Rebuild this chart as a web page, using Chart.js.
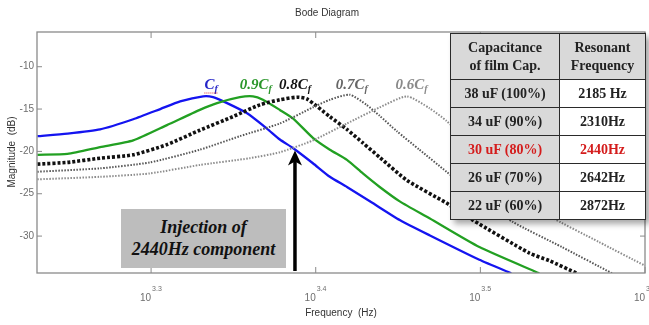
<!DOCTYPE html>
<html>
<head>
<meta charset="utf-8">
<script src="https://cdn.jsdelivr.net/npm/chart.js@4.4.1/dist/chart.umd.min.js"></script>
<style>
  body { margin: 0; background: #fff; }
  #wrap { position: relative; width: 649px; height: 325px; overflow: hidden; }
  #tbl { position: absolute; left: 450px; top: 33px; width: 196px; border-collapse: collapse;
         font: bold 14px "Liberation Serif", "Times New Roman", serif; color: #222;
         box-shadow: 4px 4px 6px rgba(0,0,0,0.35); background: #fff; }
  #tbl th, #tbl td { border: 1.5px solid #2a2a2a; text-align: center; padding: 0; }
  #tbl th { background: #d9d9d9; height: 45px; line-height: 18px; font-weight: bold; }
  #tbl td { height: 27px; }
  #tbl td.c { background: #d9d9d9; width: 108px; }
  #tbl tr.hi td { color: #d41c1c; }
  #inj { position: absolute; left: 121px; top: 209px; width: 165px; height: 59px; background: #bdbdbd;
         font: bold italic 18px "Liberation Serif", "Times New Roman", serif; color: #111;
         text-align: center; line-height: 22px; padding-top: 7px; box-sizing: border-box; }
</style>
</head>
<body>
<div id="wrap">
  <canvas id="bode" width="649" height="325"></canvas>
  <table id="tbl"></table>
  <div id="inj">Injection of<br>2440Hz component</div>
</div>
<script>
// frequency in Hz, magnitude in dB
const freqCf = [1702, 1775, 1858, 1946, 2021, 2078, 2146, 2176, 2219, 2282, 2346, 2389, 2433, 2502, 2562, 2624, 2720, 2825, 2945, 3158, 3302];
const magCf  = [-18.2, -17.9, -17.4, -16.2, -15.0, -14.1, -13.5, -13.6, -14.3, -15.5, -17.3, -18.6, -19.6, -21.4, -23.0, -24.2, -26.1, -28.1, -29.9, -32.8, -34.4];

const freq09 = [1702, 1775, 1858, 1946, 2040, 2136, 2188, 2259, 2301, 2333, 2389, 2433, 2502, 2562, 2624, 2683, 2747, 2825, 2945, 3158, 3434];
const mag09  = [-20.4, -20.3, -19.5, -18.7, -16.9, -15.1, -14.3, -13.6, -13.5, -13.9, -15.1, -16.1, -18.4, -19.8, -21.0, -22.6, -24.2, -25.9, -27.9, -31.3, -34.4];

const freq08 = [1702, 1775, 1858, 1946, 2040, 2136, 2237, 2323, 2389, 2447, 2481, 2562, 2624, 2683, 2747, 2853, 3016, 3128, 3386, 3482, 3620];
const mag08  = [-21.5, -21.3, -20.8, -20.4, -19.2, -17.5, -15.9, -14.5, -13.9, -13.6, -13.8, -15.9, -17.4, -19.0, -20.7, -23.4, -26.1, -28.1, -32.0, -32.9, -34.4];

const freq07 = [1702, 1858, 1992, 2136, 2259, 2389, 2502, 2562, 2634, 2697, 2747, 2813, 2904, 3016, 3158, 3307, 3545, 3802];
const mag07  = [-22.4, -22.0, -21.3, -19.8, -18.2, -16.7, -14.8, -13.9, -13.3, -14.5, -15.8, -17.6, -19.8, -22.4, -25.5, -28.3, -31.3, -34.4];

const freq06 = [1702, 1858, 1992, 2136, 2291, 2389, 2502, 2624, 2747, 2853, 2945, 3016, 3158, 3316, 3482, 3733, 3981];
const mag06  = [-23.3, -23.0, -22.6, -21.6, -20.8, -20.1, -18.7, -16.7, -14.8, -13.5, -14.9, -16.4, -20.1, -24.3, -27.6, -30.7, -33.5];

const curveNames = ['', '0.9', '0.8', '0.7', '0.6'];
const capLabels  = ['38 uF (100%)', '34 uF (90%)', '30 uF (80%)', '26 uF (70%)', '22 uF (60%)'];
const resFreqs   = [2185, 2310, 2440, 2642, 2872];
const resLabels  = ['2185 Hz', '2310Hz', '2440Hz', '2642Hz', '2872Hz'];
const highlightRow = 2;
const injTipMag = -19.9;

const xTickExp = [3.3, 3.4, 3.5, 3.6];
const yTicks = [-10, -15, -20, -25, -30];

const lineColors  = ['#1414f0', '#22a022', '#111111', '#555555', '#8c8c8c'];
const labelColors = ['#2525c8', '#2a962a', '#111111', '#666666', '#8a8a8a'];

function pts(fs, ms) { return fs.map((f, i) => ({ x: f, y: ms[i] })); }

// table
let html = '<tr><th>Capacitance<br>of film Cap.</th><th>Resonant<br>Frequency</th></tr>';
capLabels.forEach((c, i) => {
  html += '<tr' + (i === highlightRow ? ' class="hi"' : '') + '><td class="c">' + c + '</td><td>' + resLabels[i] + '</td></tr>';
});
document.getElementById('tbl').innerHTML = html;

function drawCapLabel(ctx, cx, base, prefix, color) {
  const big = 'bold italic 15px "Liberation Serif", serif';
  const small = 'bold italic 10px "Liberation Serif", serif';
  ctx.font = big;
  const w1 = ctx.measureText(prefix + 'C').width;
  ctx.font = small;
  const w2 = ctx.measureText('f').width;
  const x0 = cx - (w1 + w2) / 2;
  ctx.fillStyle = color;
  ctx.textAlign = 'left';
  ctx.textBaseline = 'alphabetic';
  ctx.font = big;
  ctx.fillText(prefix + 'C', x0, base);
  ctx.font = small;
  ctx.fillText('f', x0 + w1, base + 3);
  return [x0, w1 + w2];
}

const overlay = {
  id: 'overlay',
  afterDatasetsDraw(chart) {
    const { ctx, chartArea: a, scales: { x, y } } = chart;
    ctx.save();
    // frame with inward ticks
    ctx.strokeStyle = '#8a8a8a';
    ctx.lineWidth = 1.3;
    ctx.strokeRect(a.left, a.top, a.right - a.left, a.bottom - a.top);
    ctx.lineWidth = 1;
    ctx.fillStyle = '#6e6e6e';
    ctx.font = '10px "Liberation Sans", Arial, sans-serif';
    yTicks.forEach(v => {
      const py = y.getPixelForValue(v);
      ctx.beginPath();
      ctx.moveTo(a.left, py); ctx.lineTo(a.left + 5, py);
      ctx.moveTo(a.right, py); ctx.lineTo(a.right - 5, py);
      ctx.stroke();
      ctx.textAlign = 'right';
      ctx.textBaseline = 'middle';
      ctx.fillText(String(v), a.left - 3, py);
    });
    xTickExp.forEach(e => {
      const px = x.getPixelForValue(Math.pow(10, e));
      ctx.beginPath();
      ctx.moveTo(px, a.bottom); ctx.lineTo(px, a.bottom - 6);
      ctx.moveTo(px, a.top); ctx.lineTo(px, a.top + 6);
      ctx.stroke();
      ctx.textBaseline = 'alphabetic';
      ctx.font = '10px "Liberation Sans", Arial, sans-serif';
      ctx.textAlign = 'right';
      ctx.fillText('10', px, a.bottom + 28);
      ctx.font = '7px "Liberation Sans", Arial, sans-serif';
      ctx.textAlign = 'left';
      ctx.fillText(e.toFixed(1), px + 1, a.bottom + 18);
    });
    // titles
    ctx.fillStyle = '#333';
    ctx.font = '10px "Liberation Sans", Arial, sans-serif';
    ctx.textAlign = 'center';
    ctx.textBaseline = 'middle';
    ctx.fillText('Bode Diagram', 327, 13);
    ctx.fillText('Frequency  (Hz)', (a.left + a.right) / 2, 313);
    ctx.save();
    ctx.translate(12, 152);
    ctx.rotate(-Math.PI / 2);
    ctx.fillText('Magnitude  (dB)', 0, 0);
    ctx.restore();
    // curve labels at resonant frequencies
    resFreqs.forEach((f, i) => {
      const r = drawCapLabel(ctx, x.getPixelForValue(f) - (i === 0 ? 5 : 0), 89, curveNames[i], labelColors[i]);
      if (i === 0) {
        ctx.strokeStyle = '#e03030';
        ctx.lineWidth = 1;
        ctx.setLineDash([1, 1]);
        ctx.beginPath();
        ctx.moveTo(r[0], 93); ctx.lineTo(r[0] + r[1], 93);
        ctx.stroke();
        ctx.setLineDash([]);
      }
    });
    // arrow at injection frequency
    const ax = x.getPixelForValue(resFreqs[highlightRow]);
    const tip = y.getPixelForValue(injTipMag);
    ctx.strokeStyle = '#000';
    ctx.fillStyle = '#000';
    ctx.lineWidth = 3.5;
    ctx.beginPath();
    ctx.moveTo(ax, a.bottom - 2); ctx.lineTo(ax, tip + 10);
    ctx.stroke();
    ctx.beginPath();
    ctx.moveTo(ax, tip);
    ctx.lineTo(ax - 7, tip + 15);
    ctx.lineTo(ax, tip + 11);
    ctx.lineTo(ax + 7, tip + 15);
    ctx.closePath();
    ctx.fill();
    ctx.restore();
  }
};

const dash = [[], [], [3, 2], [1.5, 1.5], [1.5, 1.5]];
const widths = [2.3, 2.3, 3.6, 2, 2];
const series = [pts(freqCf, magCf), pts(freq09, mag09), pts(freq08, mag08), pts(freq07, mag07), pts(freq06, mag06)];

new Chart(document.getElementById('bode'), {
  type: 'line',
  data: {
    datasets: series.map((d, i) => ({
      label: curveNames[i] + 'Cf',
      data: d,
      borderColor: lineColors[i],
      borderWidth: widths[i],
      borderDash: dash[i],
      pointRadius: 0,
      tension: 0.2,
      fill: false
    })).reverse()
  },
  options: {
    responsive: false,
    animation: false,
    layout: { padding: { left: 37, top: 32, right: 4, bottom: 52 } },
    plugins: { legend: { display: false }, tooltip: { enabled: false } },
    scales: {
      x: { type: 'logarithmic', min: Math.pow(10, 3.2307), max: Math.pow(10, 3.6), display: false },
      y: { type: 'linear', min: -34.36, max: -5.9, display: false }
    }
  },
  plugins: [overlay]
});
</script>
</body>
</html>
